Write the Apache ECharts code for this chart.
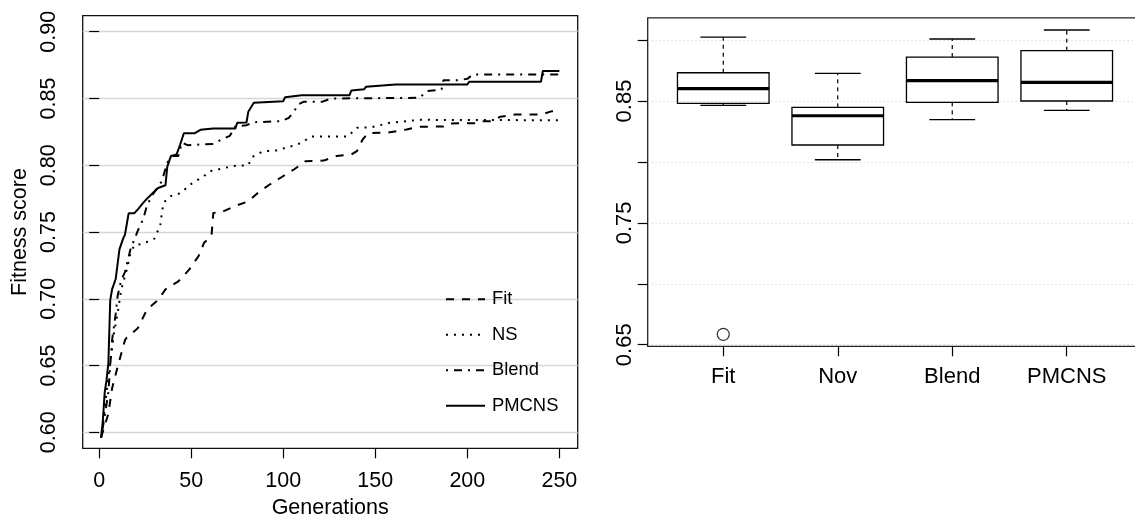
<!DOCTYPE html>
<html>
<head>
<meta charset="utf-8">
<script src="https://cdn.jsdelivr.net/npm/echarts@6/dist/echarts.min.js"></script>
<style>
  html, body { margin: 0; padding: 0; background: #fff; }
  #chart { width: 1135px; height: 517px; }
</style>
</head>
<body>
<div id="chart"></div>
<script>
const FONT = '"Liberation Sans", Arial, Helvetica, sans-serif';

// ---- Left panel: mean best fitness per generation (curve vertices) ----
const fitGen = [1, 3, 5, 7, 10, 12, 14, 15, 17, 21, 26, 32, 36, 43, 49, 54, 57, 61, 62, 66, 73, 81, 86, 92, 99, 106, 112, 122, 129, 137, 140, 143, 146, 157, 167, 174, 187, 190, 204, 207, 213, 218, 226, 240, 246, 250];
const fitVal = [0.596, 0.605, 0.614, 0.633, 0.649, 0.659, 0.669, 0.671, 0.673, 0.678, 0.692, 0.699, 0.707, 0.713, 0.722, 0.732, 0.742, 0.747, 0.7643, 0.7645, 0.769, 0.773, 0.779, 0.785, 0.791, 0.797, 0.803, 0.8035, 0.807, 0.808, 0.8105, 0.819, 0.824, 0.8245, 0.8268, 0.8288, 0.829, 0.8313, 0.8315, 0.833, 0.833, 0.8363, 0.838, 0.838, 0.8405, 0.8405];

const nsGen = [1, 3, 4, 5, 6, 8, 10, 12, 14, 15, 17, 19, 23, 25, 30, 31, 33, 34, 35, 39, 44, 50, 57, 60, 65, 73, 81, 83, 89, 96, 105, 110, 115, 135, 140, 148, 158, 174, 250];
const nsVal = [0.596, 0.618, 0.630, 0.642, 0.652, 0.674, 0.689, 0.707, 0.717, 0.722, 0.734, 0.740, 0.741, 0.742, 0.745, 0.749, 0.753, 0.764, 0.772, 0.777, 0.779, 0.786, 0.792, 0.7955, 0.797, 0.7995, 0.800, 0.806, 0.8105, 0.811, 0.8145, 0.8168, 0.8215, 0.8215, 0.828, 0.8285, 0.8318, 0.834, 0.8337];

const blendGen = [1, 3, 5, 6, 7, 9, 10, 12, 14, 17, 21, 24, 26, 29, 34, 37, 40, 43, 45, 48, 62, 66, 71, 74, 80, 84, 99, 103, 106, 108, 111, 121, 126, 174, 178, 186, 187, 195, 200, 203, 250];
const blendVal = [0.596, 0.612, 0.630, 0.650, 0.669, 0.689, 0.702, 0.714, 0.720, 0.737, 0.751, 0.760, 0.770, 0.778, 0.788, 0.802, 0.807, 0.807, 0.817, 0.815, 0.816, 0.819, 0.822, 0.8292, 0.830, 0.8322, 0.833, 0.8355, 0.8405, 0.8455, 0.8475, 0.8475, 0.850, 0.8505, 0.8555, 0.8567, 0.8637, 0.8637, 0.8647, 0.868, 0.868];

const pmcnsGen = [1, 2, 3, 4, 5, 6, 7, 9, 11, 13, 14, 16, 19, 21, 24, 26, 29, 32, 36, 37, 39, 42, 44, 46, 52, 55, 62, 74, 75, 80, 81, 84, 100, 101, 110, 136, 137, 144, 145, 161, 200, 201, 240, 241, 250];
const pmcnsVal = [0.596, 0.609, 0.630, 0.639, 0.652, 0.699, 0.707, 0.715, 0.737, 0.745, 0.748, 0.764, 0.764, 0.767, 0.772, 0.775, 0.779, 0.783, 0.785, 0.799, 0.807, 0.808, 0.8155, 0.824, 0.824, 0.8265, 0.8275, 0.8275, 0.8318, 0.832, 0.840, 0.8468, 0.848, 0.851, 0.8525, 0.8525, 0.856, 0.857, 0.8588, 0.8605, 0.8605, 0.8625, 0.8625, 0.8705, 0.8705];

const lineTicksX = [0, 50, 100, 150, 200, 250];
const lineTicksY = [0.60, 0.65, 0.70, 0.75, 0.80, 0.85, 0.90];

// ---- Right panel: final fitness distribution per method ----
const boxCategories = ['Fit', 'Nov', 'Blend', 'PMCNS'];
const boxMin    = [0.8465, 0.8018, 0.8347, 0.8424];
const boxQ1     = [0.8481, 0.8139, 0.8489, 0.8500];
const boxMedian = [0.8601, 0.8379, 0.8667, 0.8653];
const boxQ3     = [0.8732, 0.8448, 0.8861, 0.8913];
const boxMax    = [0.9025, 0.8727, 0.9009, 0.9083];
const outlierCategory = ['Fit'];
const outlierValue = [0.6585];

const boxTicksY = [0.65, 0.70, 0.75, 0.80, 0.85, 0.90];
const boxLabelsY = [0.65, 0.75, 0.85];

const zip = (xs, ys) => xs.map((x, i) => [x, ys[i]]);

const boxData = boxCategories.map((c, i) => [i + 1, boxMin[i], boxQ1[i], boxMedian[i], boxQ3[i], boxMax[i]]);
const outlierData = outlierCategory.map((c, i) => [boxCategories.indexOf(c) + 1, outlierValue[i]]);

const textBase = { color: '#000', fontFamily: FONT };

function lineSeries(name, gen, val, type) {
  return {
    name: name,
    type: 'line',
    xAxisIndex: 0,
    yAxisIndex: 0,
    data: zip(gen, val),
    symbol: 'none',
    showSymbol: false,
    z: 3,
    lineStyle: { color: '#000', width: 2, type: type, cap: 'butt' },
    itemStyle: { color: '#000' },
    emphasis: { disabled: true }
  };
}

// Box-and-whisker drawn from the five-number summary of each method
function renderBox(params, api) {
  const x = api.value(0);
  const pMin = api.coord([x, api.value(1)]);
  const pQ1 = api.coord([x, api.value(2)]);
  const pMed = api.coord([x, api.value(3)]);
  const pQ3 = api.coord([x, api.value(4)]);
  const pMax = api.coord([x, api.value(5)]);
  const bw = api.size([0.8, 0])[0];
  const cx = pMed[0];
  const half = bw / 2;
  const cap = bw / 4;
  const solid = { stroke: '#000', lineWidth: 1.3, fill: null };
  const dashed = { stroke: '#000', lineWidth: 1.2, lineDash: [4, 4] };
  return {
    type: 'group',
    children: [
      { type: 'line', shape: { x1: cx, y1: pQ3[1], x2: cx, y2: pMax[1] }, style: dashed },
      { type: 'line', shape: { x1: cx, y1: pQ1[1], x2: cx, y2: pMin[1] }, style: dashed },
      { type: 'line', shape: { x1: cx - cap, y1: pMax[1], x2: cx + cap, y2: pMax[1] }, style: solid },
      { type: 'line', shape: { x1: cx - cap, y1: pMin[1], x2: cx + cap, y2: pMin[1] }, style: solid },
      { type: 'rect', shape: { x: cx - half, y: pQ3[1], width: bw, height: pQ1[1] - pQ3[1] }, style: solid },
      { type: 'line', shape: { x1: cx - half, y1: pMed[1], x2: cx + half, y2: pMed[1] }, style: { stroke: '#000', lineWidth: 3.2 } }
    ]
  };
}

const chart = echarts.init(document.getElementById('chart'), null, { renderer: 'canvas' });

chart.setOption({
  animation: false,
  backgroundColor: '#fff',
  grid: [
    { left: 82.7, top: 15.7, width: 495, height: 432.6, outerBoundsMode: 'none', containLabel: false,
      show: true, borderColor: '#111', borderWidth: 1.3, backgroundColor: 'transparent' },
    { left: 647.7, top: 17.8, width: 494.6, height: 328.5, outerBoundsMode: 'none', containLabel: false,
      show: true, borderColor: '#222', borderWidth: 1.3, backgroundColor: 'transparent' }
  ],
  legend: {
    data: ['Fit', 'NS', 'Blend', 'PMCNS'],
    orient: 'vertical',
    left: 445,
    top: 290.3,
    padding: 0,
    itemWidth: 39,
    itemHeight: 18,
    itemGap: 17.5,
    selectedMode: false,
    itemStyle: { opacity: 0 },
    lineStyle: { color: '#000', width: 2 },
    textStyle: { color: '#000', fontFamily: FONT, fontSize: 18.4, lineHeight: 18, padding: [0, 0, 0, 2] }
  },
  xAxis: [
    {
      gridIndex: 0, type: 'value', min: -8.96, max: 259.96,
      axisLine: { show: false },
      axisTick: { show: true, inside: false, length: 10, customValues: lineTicksX, lineStyle: { color: '#000', width: 1.2 } },
      axisLabel: { customValues: lineTicksX, margin: 22, fontSize: 21.5, ...textBase },
      splitLine: { show: false },
      name: 'Generations', nameLocation: 'middle', nameGap: 47,
      nameTextStyle: { fontSize: 21.5, ...textBase }
    },
    {
      gridIndex: 1, type: 'value', min: 0.34, max: 4.66,
      axisLine: { show: false },
      axisTick: { show: true, inside: false, length: 10, customValues: [1, 2, 3, 4], lineStyle: { color: '#000', width: 1.2 } },
      axisLabel: {
        customValues: [1, 2, 3, 4], margin: 20, fontSize: 22, ...textBase,
        formatter: v => boxCategories[Math.round(v) - 1]
      },
      splitLine: { show: false }
    }
  ],
  yAxis: [
    {
      gridIndex: 0, type: 'value', min: 0.588, max: 0.912,
      axisLine: { show: false },
      axisTick: { show: true, inside: false, length: 10, customValues: lineTicksY, lineStyle: { color: '#000', width: 1.2 } },
      axisLabel: { customValues: lineTicksY, rotate: 90, margin: 23, fontSize: 21.5, ...textBase, formatter: v => v.toFixed(2) },
      splitLine: { show: true, lineStyle: { color: '#d6d6d6', width: 1.3 } },
      name: 'Fitness score', nameLocation: 'middle', nameGap: 52, nameRotate: 90,
      nameTextStyle: { fontSize: 21.5, ...textBase }
    },
    {
      gridIndex: 1, type: 'value', min: 0.6487, max: 0.9183,
      axisLine: { show: false },
      axisTick: { show: true, inside: false, length: 10, customValues: boxTicksY, lineStyle: { color: '#000', width: 1.2 } },
      axisLabel: { customValues: boxLabelsY, rotate: 90, margin: 12, fontSize: 22, ...textBase, formatter: v => v.toFixed(2) },
      splitLine: { show: true, lineStyle: { color: '#c8c8c8', width: 1, type: [1, 3] } }
    }
  ],
  series: [
    lineSeries('Fit', fitGen, fitVal, [8, 8]),
    lineSeries('NS', nsGen, nsVal, [2, 6]),
    lineSeries('Blend', blendGen, blendVal, [2, 6, 8, 6]),
    lineSeries('PMCNS', pmcnsGen, pmcnsVal, 'solid'),
    {
      type: 'custom',
      xAxisIndex: 1,
      yAxisIndex: 1,
      data: boxData,
      encode: { x: 0, y: [1, 2, 3, 4, 5] },
      renderItem: renderBox,
      z: 3,
      silent: true
    },
    {
      type: 'scatter',
      xAxisIndex: 1,
      yAxisIndex: 1,
      data: outlierData,
      symbol: 'circle',
      symbolSize: 12,
      itemStyle: { color: 'transparent', borderColor: '#000', borderWidth: 1.2 },
      z: 3,
      silent: true
    }
  ]
});
</script>
</body>
</html>
